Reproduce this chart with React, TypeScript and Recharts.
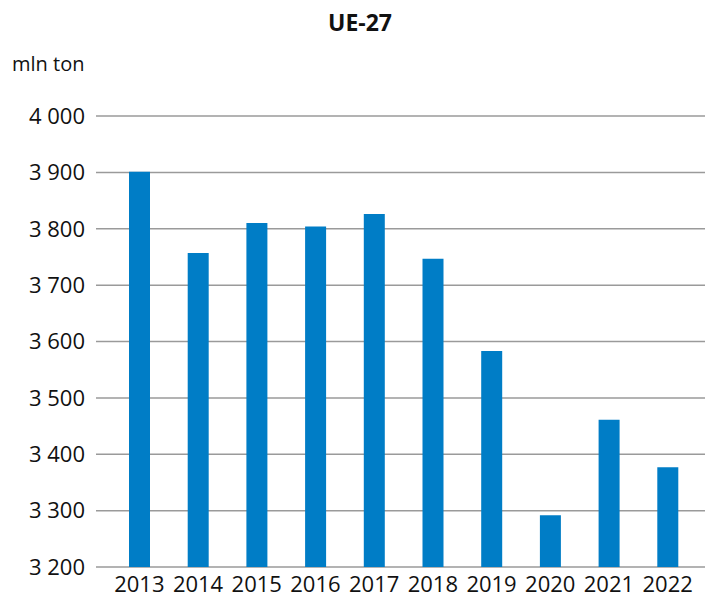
import { BarChart, Bar, XAxis, YAxis, CartesianGrid } from "recharts";

const YEARS = ["2013", "2014", "2015", "2016", "2017", "2018", "2019", "2020", "2021", "2022"];
const EMISSIONS = [3901, 3757, 3810, 3804, 3826, 3747, 3583, 3292, 3461, 3377];
const Y_TICKS = [3200, 3300, 3400, 3500, 3600, 3700, 3800, 3900, 4000];

const BAR_COLOR = "#007DC6";
const GRID_COLOR = "#9a9a9a";
const FONT = "'Open Sans', sans-serif";

const data = YEARS.map((year, i) => ({ year, value: EMISSIONS[i] }));

// 3200 -> "3 200"
const formatThousands = (v: number) =>
  `${Math.floor(v / 1000)} ${String(v % 1000).padStart(3, "0")}`;

export default function App() {
  return (
    <div
      style={{
        position: "absolute",
        left: 0,
        top: 0,
        width: 705,
        height: 603,
        background: "#fff",
        fontFamily: FONT,
        overflow: "hidden",
      }}
    >
      <div
        style={{
          position: "absolute",
          top: 6,
          left: 0,
          width: 720,
          textAlign: "center",
          fontSize: 23,
          fontWeight: 700,
          color: "#111",
        }}
      >
        UE-27
      </div>
      <div
        style={{
          position: "absolute",
          top: 50,
          left: 12,
          fontSize: 20,
          color: "#111",
        }}
      >
        mln ton
      </div>
      <BarChart
        width={705}
        height={603}
        data={data}
        margin={{ top: 116, right: 0, bottom: 0, left: 0 }}
      >
        <CartesianGrid
          vertical={false}
          stroke={GRID_COLOR}
          strokeWidth={1.5}
        />
        <XAxis
          dataKey="year"
          height={36}
          axisLine={false}
          tickLine={false}
          tickSize={0}
          tickMargin={9}
          padding={{ left: 14, right: 8 }}
          interval={0}
          tick={{ fill: "#111", fontSize: 22, fontFamily: FONT }}
        />
        <YAxis
          domain={[3200, 4000]}
          ticks={Y_TICKS}
          width={96}
          axisLine={false}
          tickLine={false}
          tickSize={0}
          tickMargin={11}
          tickFormatter={formatThousands}
          tick={{ fill: "#111", fontSize: 22, fontFamily: FONT }}
        />
        <Bar
          dataKey="value"
          fill={BAR_COLOR}
          barSize={21}
          isAnimationActive={false}
        />
      </BarChart>
    </div>
  );
}
